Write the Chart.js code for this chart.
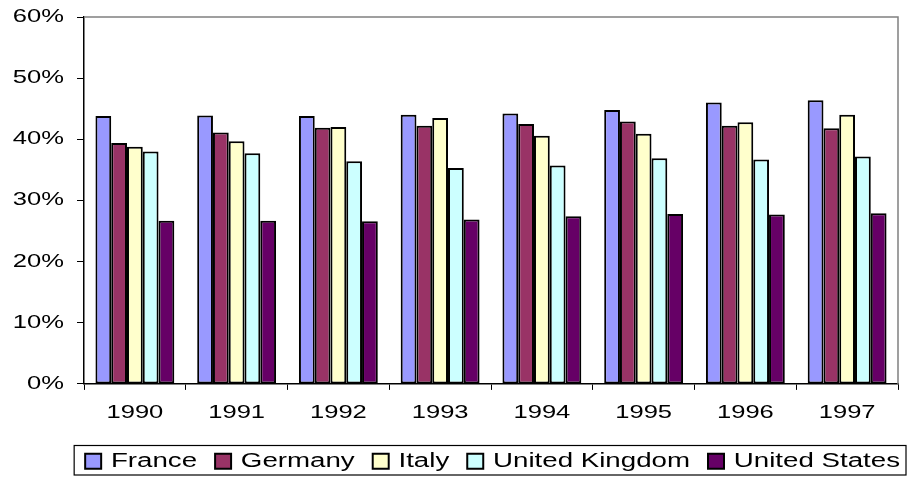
<!DOCTYPE html>
<html>
<head>
<meta charset="utf-8">
<script src="https://cdn.jsdelivr.net/npm/chart.js@4"></script>
<style>
  html, body { margin: 0; padding: 0; background: #fff; }
  #wrap { width: 907px; height: 477px; }
</style>
</head>
<body>
<div id="wrap"><canvas id="taxChart"></canvas></div>
<script>
const years = ['1990', '1991', '1992', '1993', '1994', '1995', '1996', '1997'];
const france = [43.8, 43.9, 43.8, 44.0, 44.2, 44.8, 46.0, 46.4];
const germany = [39.4, 41.1, 41.9, 42.2, 42.5, 42.9, 42.2, 41.8];
const italy = [38.8, 39.7, 42.0, 43.5, 40.6, 40.9, 42.8, 44.0];
const uk = [38.0, 37.7, 36.4, 35.3, 35.7, 36.9, 36.7, 37.2];
const us = [26.7, 26.7, 26.6, 26.9, 27.4, 27.8, 27.7, 27.9];
const yTicks = [0, 10, 20, 30, 40, 50, 60];

// the reference text is horizontally stretched, so widen every glyph
const STRETCH = 1.42;
const canvas = document.getElementById('taxChart');
const c2d = canvas.getContext('2d');
const nativeFill = c2d.fillText.bind(c2d);
const nativeMeasure = c2d.measureText.bind(c2d);
c2d.fillText = function (text, x, y, maxWidth) {
    this.save();
    this.translate(x, y);
    this.scale(STRETCH, 1);
    if (maxWidth !== undefined) nativeFill(text, 0, 0, maxWidth / STRETCH);
    else nativeFill(text, 0, 0);
    this.restore();
};
c2d.measureText = function (text) {
    const m = nativeMeasure(text);
    return {
        width: m.width * STRETCH,
        actualBoundingBoxAscent: m.actualBoundingBoxAscent,
        actualBoundingBoxDescent: m.actualBoundingBoxDescent,
        actualBoundingBoxLeft: m.actualBoundingBoxLeft * STRETCH,
        actualBoundingBoxRight: m.actualBoundingBoxRight * STRETCH
    };
};

// grey frame on top/right of plot + box around legend
const frame = {
    id: 'frame',
    afterLayout(chart) {
        // legend sits a bit right of centre in the original
        chart.legend.left += 20;
        chart.legend.right += 20;
    },
    afterDraw(chart) {
        const ctx = chart.ctx;
        const a = chart.chartArea;
        ctx.save();
        ctx.strokeStyle = '#808080';
        ctx.lineWidth = 1.5;
        ctx.beginPath();
        ctx.moveTo(a.left, a.top);
        ctx.lineTo(a.right, a.top);
        ctx.lineTo(a.right, a.bottom);
        ctx.stroke();

        const boxes = chart.legend.legendHitBoxes;
        if (boxes && boxes.length) {
            const l = Math.min(...boxes.map(b => b.left)) - 11;
            const r = Math.max(...boxes.map(b => b.left + b.width)) + 6;
            const t = Math.min(...boxes.map(b => b.top)) - 6;
            const b2 = Math.max(...boxes.map(b => b.top + b.height)) + 4;
            ctx.strokeStyle = '#000';
            ctx.lineWidth = 1.2;
            ctx.strokeRect(l, t, r - l, b2 - t);
        }
        ctx.restore();
    }
};

Chart.defaults.font.family = '"Liberation Sans", Arial, sans-serif';
Chart.defaults.color = '#000';

const mk = (label, data, color) => ({
    label: label,
    data: data,
    backgroundColor: color,
    borderColor: '#000',
    borderWidth: 2,
    borderSkipped: false,
    categoryPercentage: 0.775,
    barPercentage: 1.0
});

new Chart(canvas, {
    type: 'bar',
    data: {
        labels: years,
        datasets: [
            mk('France', france, '#9999FF'),
            mk('Germany', germany, '#993366'),
            mk('Italy', italy, '#FFFFCC'),
            mk('United Kingdom', uk, '#CCFFFF'),
            mk('United States', us, '#660066')
        ]
    },
    options: {
        responsive: true,
        maintainAspectRatio: false,
        animation: false,
        layout: { padding: { left: 12, right: 9, top: 17, bottom: -4 } },
        plugins: {
            tooltip: { enabled: false },
            legend: {
                position: 'bottom',
                align: 'end',
                labels: {
                    font: { size: 19.5 },
                    boxWidth: 16,
                    boxHeight: 15,
                    padding: 18,
                    color: '#000'
                }
            }
        },
        scales: {
            x: {
                offset: true,
                afterFit(axis) { axis.height -= 2; },
                grid: {
                    offset: true,
                    drawOnChartArea: false,
                    color: '#000',
                    tickLength: 6,
                    lineWidth: 1
                },
                border: { color: '#000', width: 1.5 },
                ticks: { font: { size: 18 }, padding: 12, color: '#000' }
            },
            y: {
                min: 0,
                max: 60,
                afterBuildTicks(axis) {
                    axis.ticks = yTicks.map(v => ({ value: v }));
                },
                afterFit(axis) {
                    axis.width = 72;
                    axis.paddingTop = 0;
                    axis.paddingBottom = 0;
                },
                grid: {
                    drawOnChartArea: false,
                    color: '#000',
                    tickLength: 7,
                    lineWidth: 1
                },
                border: { color: '#000', width: 1.5 },
                ticks: {
                    font: { size: 18 },
                    padding: 13,
                    color: '#000',
                    callback: v => v + '%'
                }
            }
        }
    },
    plugins: [frame]
});
</script>
</body>
</html>
